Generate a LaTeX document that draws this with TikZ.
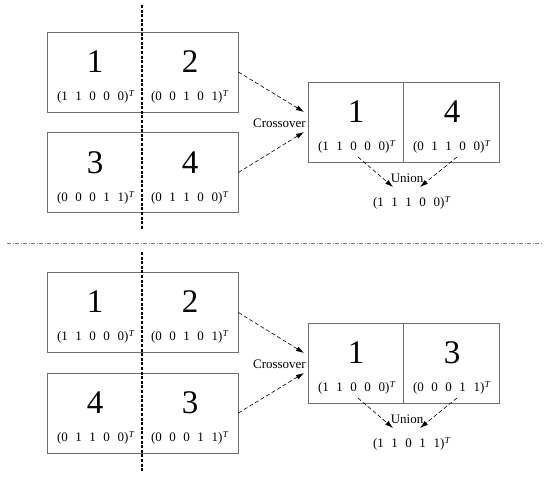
\documentclass[tikz,border=0pt]{standalone}
\usepackage{fontspec}
\setmainfont{Liberation Serif}
\usetikzlibrary{arrows.meta,calc}
\newcommand{\vc}[5]{(#1\hspace{.58em}#2\hspace{.58em}#3\hspace{.58em}#4\hspace{.58em}#5)\textsuperscript{\kern.5pt\textit{T}}}
\definecolor{boxgray}{RGB}{110,110,110}
\tikzset{
  box/.style={draw=boxgray, line width=0.8pt, minimum width=191pt, minimum height=80pt, inner sep=0pt},
  big/.style={font=\fontsize{33}{33}\selectfont, inner sep=0pt},
  vec/.style={font=\fontsize{13}{13}\selectfont, inner sep=0pt},
  lbl/.style={font=\fontsize{13}{13}\selectfont, inner sep=0pt},
  flow/.style={dashed, dash pattern=on 4pt off 2.5pt, line width=0.6pt, -{Latex[length=8pt,width=5pt]}},
  cut/.style={line width=2.2pt, dash pattern=on 3pt off 1.6pt},
  sep/.style={line width=0.5pt, draw=gray, dash pattern=on 4pt off 1.5pt on 1pt off 1.5pt}
}
\begin{document}
\begin{tikzpicture}[x=1pt,y=-1pt]
\useasboundingbox (0,0) rectangle (550,479);
% ---------- top half ----------
\node[box] (A) at (142.5,72) {};
\node[box] (B) at (142.5,172.5) {};
\node[big] (A1) at (95,62) {1};
\node[big] (A2) at (190,62) {2};
\node[vec] (A1v) at (96,97) {\vc11000};
\node[vec] (A2v) at (190,97) {\vc00101};
\node[big] (B1) at (95,163) {3};
\node[big] (B2) at (190,163) {4};
\node[vec] (B1v) at (96,198) {\vc00011};
\node[vec] (B2v) at (190,198) {\vc01100};
\coordinate (cutTa) at (142,5);
\coordinate (cutTb) at (142,229);
\draw[cut] (cutTa) -- (cutTb);
\node[box] (R) at (403.5,122) {};
\draw[draw=boxgray, line width=0.8pt] (R.north) -- (R.south);
\node[big] (R1) at (356,112) {1};
\node[big] (R2) at (452,112) {4};
\node[vec] (R1v) at (357,147) {\vc11000};
\node[vec] (R2v) at (452,147) {\vc01100};
\node[lbl, anchor=east] (X) at (306,123) {Crossover};
\coordinate (x1) at (304,112);
\coordinate (x2) at (304,132);
\draw[flow] (A.east) -- (x1);
\draw[flow] (B.east) -- (x2);
\node[lbl] (U) at (407,178) {Union};
\node[vec] (Res) at (412,203) {\vc11100};
\coordinate (u1s) at (358,157);
\coordinate (u1e) at (393,187);
\coordinate (u2s) at (457,157);
\coordinate (u2e) at (420,187);
\draw[flow] (u1s) -- (u1e);
\draw[flow] (u2s) -- (u2e);
% ---------- separator ----------
\coordinate (sa) at (7,243);
\coordinate (sb) at (543,243);
\draw[sep] (sa) -- (sb);
% ---------- bottom half ----------
\node[box] (C) at (142.5,312.5) {};
\node[box] (D) at (142.5,413) {};
\node[big] (C1) at (95,302) {1};
\node[big] (C2) at (190,302) {2};
\node[vec] (C1v) at (96,337) {\vc11000};
\node[vec] (C2v) at (190,337) {\vc00101};
\node[big] (D1) at (95,403) {4};
\node[big] (D2) at (190,403) {3};
\node[vec] (D1v) at (96,438) {\vc01100};
\node[vec] (D2v) at (190,438) {\vc00011};
\coordinate (cutBa) at (142,252);
\coordinate (cutBb) at (142,472);
\draw[cut] (cutBa) -- (cutBb);
\node[box] (S) at (403.5,363) {};
\draw[draw=boxgray, line width=0.8pt] (S.north) -- (S.south);
\node[big] (S1) at (356,353) {1};
\node[big] (S2) at (452,353) {3};
\node[vec] (S1v) at (357,388) {\vc11000};
\node[vec] (S2v) at (452,388) {\vc00011};
\node[lbl, anchor=east] (Y) at (306,364) {Crossover};
\coordinate (y1) at (304,353);
\coordinate (y2) at (304,373);
\draw[flow] (C.east) -- (y1);
\draw[flow] (D.east) -- (y2);
\node[lbl] (V) at (407,419) {Union};
\node[vec] (Res2) at (412,444) {\vc11011};
\coordinate (v1s) at (358,398);
\coordinate (v1e) at (393,428);
\coordinate (v2s) at (457,398);
\coordinate (v2e) at (420,428);
\draw[flow] (v1s) -- (v1e);
\draw[flow] (v2s) -- (v2e);
\end{tikzpicture}
\end{document}
